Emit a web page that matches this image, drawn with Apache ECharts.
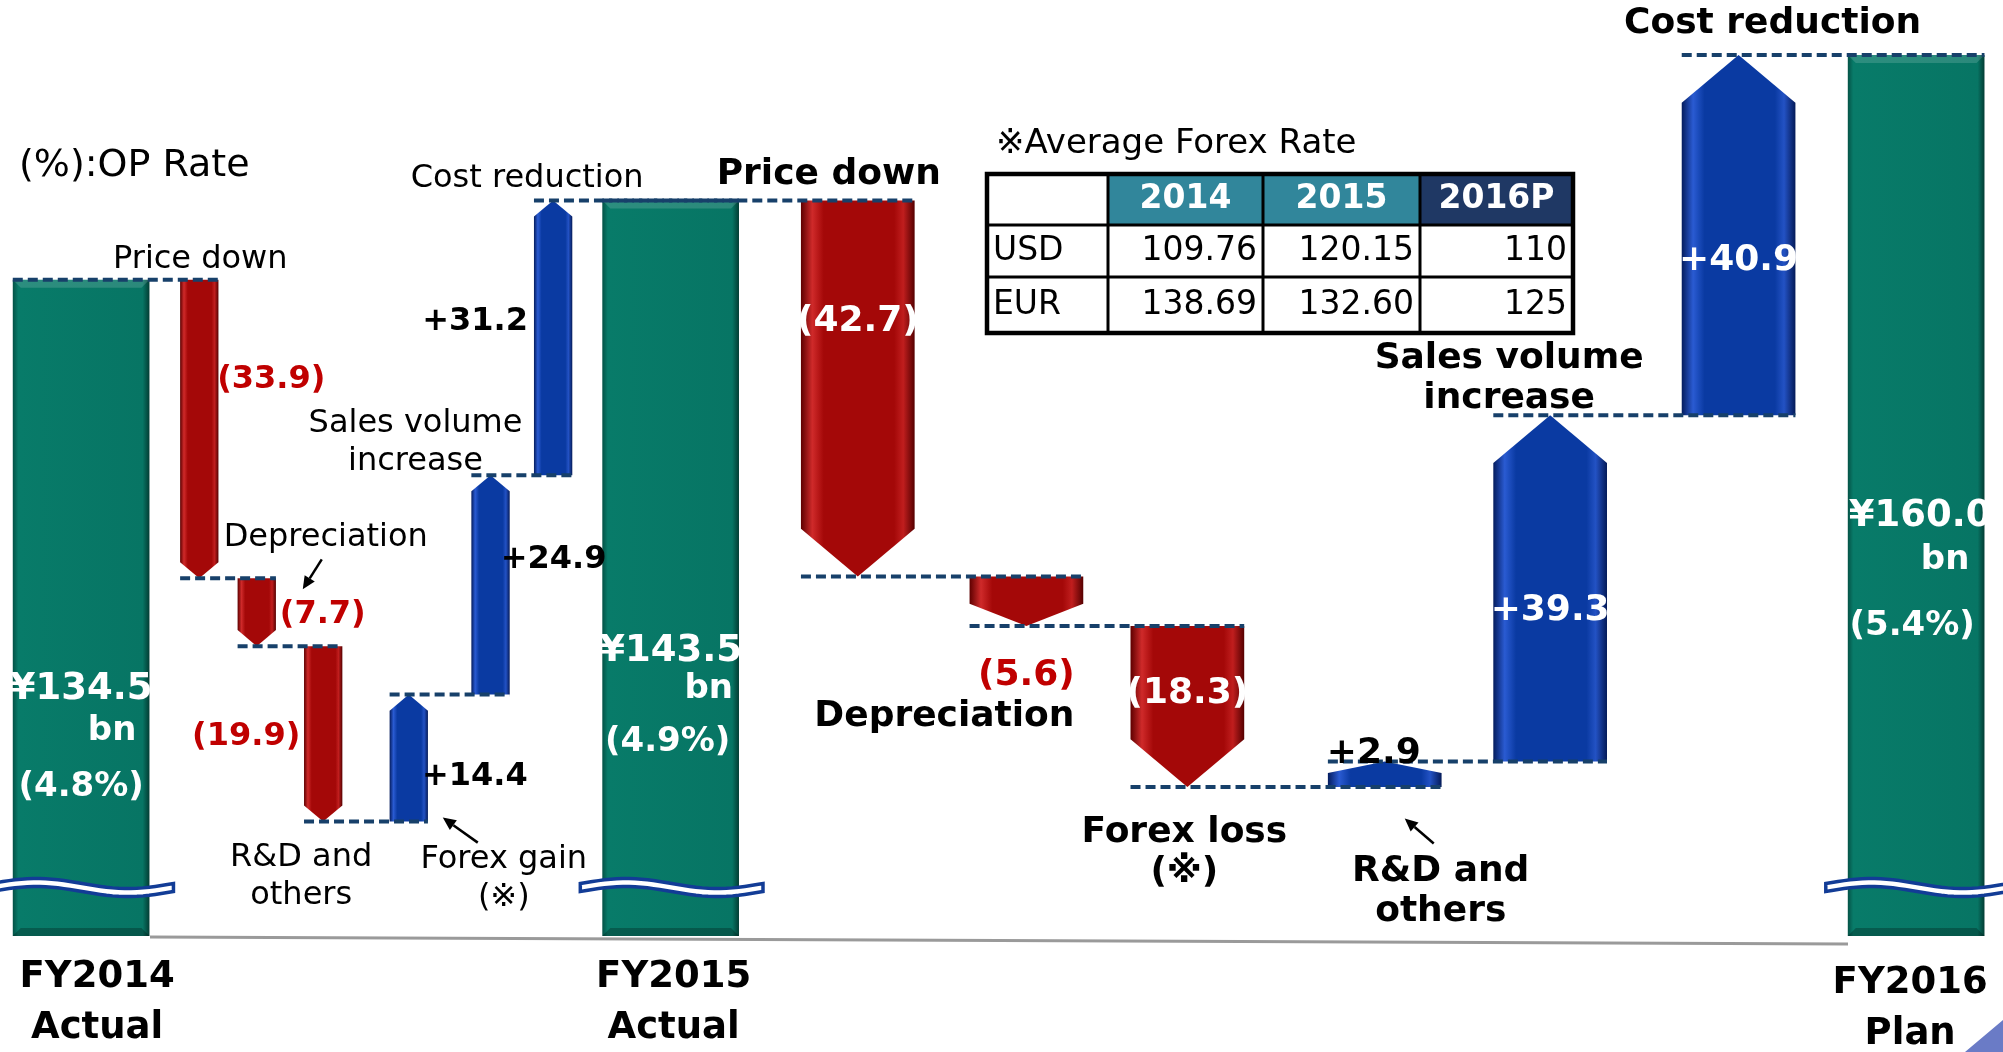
<!DOCTYPE html>
<html>
<head>
<meta charset="utf-8">
<script src="https://cdn.jsdelivr.net/npm/echarts@6/dist/echarts.min.js"></script>
<style>
  html, body { margin: 0; padding: 0; background: #fff; }
  #main { width: 2003px; height: 1052px; }
</style>
</head>
<body>
<div id="main"></div>
<script>
// ---- data (bn yen) ----
const stepNames = ['FY2014\nActual', 'Price down', 'Depreciation', 'R&D and\nothers', 'Forex gain\n(※)',
  'Sales volume\nincrease', 'Cost reduction', 'FY2015\nActual', 'Price down', 'Depreciation',
  'Forex loss\n(※)', 'R&D and\nothers', 'Sales volume\nincrease', 'Cost reduction', 'FY2016\nPlan'];
const stepValues = [134.5, -33.9, -7.7, -19.9, 14.4, 24.9, 31.2, 143.5, -42.7, -5.6, -18.3, 2.9, 39.3, 40.9, 160.0];
const isTotal = [1, 0, 0, 0, 0, 0, 0, 1, 0, 0, 0, 0, 0, 0, 1];
const opRates = ['4.8%', '4.9%', '5.4%'];

const forexYears = ['2014', '2015', '2016P'];
const forexCurrencies = ['USD', 'EUR'];
const forexUSD = ['109.76', '120.15', '110'];
const forexEUR = ['138.69', '132.60', '125'];

// ---- layout ----
const AXIS_MIN = 60, AXIS_MAX = 165;     // axis is broken, bars start at 60
const BREAK_AT = 65.5;
// slot centres / widths on the hidden x axis (0..1568)
const slotX = [63.5, 156, 201, 253, 320, 384, 433, 525, 671.5, 803.5, 929.5, 1084, 1213.5, 1361, 1500];
const slotW = [107, 30, 30, 30, 30, 30, 30, 107, 89, 89, 89, 89, 89, 89, 107];
// label offsets (px) from the top-centre of each bar; totals' names from the bottom
const nameOffset = [[16, 67], [1, -20], [69, -41], [-22, 231], [95, 184], [-75, -33], [-26, -22],
  [3, 67], [-29, -26], [-82, 140], [-3, 227], [56, 130], [-41, -37], [34, -31], [-6, 73]];
const valueOffset = [[0, 410], [72, 100], [66, 36], [-77, 91], [66, 82], [63, 84], [-78, 121],
  [0, 451], [0, 121], [0, 99], [0, 68], [-11, -8], [0, 195], [0, 206], [4, 461]];
const valueColor = ['#fff', '#C00000', '#C00000', '#C00000', '#000', '#000', '#000',
  '#fff', '#fff', '#C00000', '#fff', '#000', '#fff', '#fff', '#fff'];
const totalSub = [[31, 41, 0, 97], [38, 38, -3, 91], [25, 44, -8, 110]]; // bn dx,dy / pct dx,dy
const arrows = {2: [65, -19, 46, 11], 4: [69, 148, 34, 123], 11: [49, 82, 20, 57]};

const FONT = '"DejaVu Sans", Verdana, sans-serif';

// cumulative waterfall rows: [x, low, high, dir, width, endLevel]
let run = 0;
const rows = stepValues.map((v, i) => {
  if (isTotal[i]) { run = v; return [slotX[i], AXIS_MIN, v, 0, slotW[i], v]; }
  const from = run;
  run = Math.round((run + v) * 10) / 10;
  return [slotX[i], Math.min(from, run), Math.max(from, run), v < 0 ? -1 : 1, slotW[i], run];
});

function grad(stops) {
  return new echarts.graphic.LinearGradient(0, 0, 1, 0, stops.map(c => ({offset: c[0], color: c[1]})));
}
const tealFill = grad([[0, '#045246'], [0.04, '#087b69'], [0.95, '#077564'], [1, '#033c33']]);
const redFill = grad([[0, '#5e0000'], [0.1, '#cf2a2a'], [0.2, '#a40808'], [0.82, '#a40808'], [0.9, '#c01e1e'], [1, '#560000']]);
const blueFill = grad([[0, '#041c5e'], [0.1, '#2a5bd2'], [0.2, '#0a3aa2'], [0.82, '#0a3aa2'], [0.9, '#2352c4'], [1, '#041a58']]);

function geom(api, r) {
  const a = api.coord([r[0] - r[4] / 2, r[2]]);
  const b = api.coord([r[0] + r[4] / 2, r[1]]);
  return {L: a[0], R: b[0], T: a[1], B: b[1], C: (a[0] + b[0]) / 2, W: b[0] - a[0], H: b[1] - a[1]};
}

function renderBar(params, api) {
  const i = params.dataIndex, r = rows[i], g = geom(api, r);
  const kids = [];
  if (r[3] === 0) {
    kids.push({type: 'rect', shape: {x: g.L, y: g.T, width: g.W, height: g.H}, style: {fill: tealFill}});
    kids.push({type: 'polygon', shape: {points: [[g.L, g.T], [g.R, g.T], [g.R - 8, g.T + 8], [g.L + 8, g.T + 8]]},
      style: {fill: 'rgba(255,255,255,0.15)'}});
    kids.push({type: 'polygon', shape: {points: [[g.L, g.B], [g.R, g.B], [g.R - 8, g.B - 8], [g.L + 8, g.B - 8]]},
      style: {fill: 'rgba(0,0,0,0.25)'}});
    // axis break mark
    const yc = api.coord([r[0], BREAK_AT])[1];
    const x0 = g.L - 22, x1 = g.R + 24, n = 30, top = [], bot = [];
    for (let k = 0; k <= n; k++) {
      const t = k / n, x = x0 + (x1 - x0) * t, y = yc - 5 * Math.sin(2 * Math.PI * t);
      top.push([x, y - 4]);
      bot.unshift([x, y + 4]);
    }
    kids.push({type: 'polygon', shape: {points: top.concat(bot)},
      style: {fill: '#fff', stroke: '#123C96', lineWidth: 3.5}});
  } else {
    const tip = Math.min(g.W * 0.42, g.H * 0.45);
    const pts = r[3] < 0
      ? [[g.L, g.T], [g.R, g.T], [g.R, g.B - tip], [g.C, g.B], [g.L, g.B - tip]]
      : [[g.C, g.T], [g.R, g.T + tip], [g.R, g.B], [g.L, g.B], [g.L, g.T + tip]];
    kids.push({type: 'polygon', shape: {points: pts}, style: {fill: r[3] < 0 ? redFill : blueFill}});
  }
  return {type: 'group', children: kids};
}

function txt(x, y, text, font, fill, lh) {
  return {type: 'text', x: x, y: y, style: {text: text, font: font, fill: fill, align: 'center',
    verticalAlign: 'middle', lineHeight: lh || undefined}};
}

function arrowTo(x1, y1, x2, y2) {
  const a = Math.atan2(y2 - y1, x2 - x1), s = 13, w = 6;
  const bx = x2 - s * Math.cos(a), by = y2 - s * Math.sin(a);
  return [
    {type: 'line', shape: {x1: x1, y1: y1, x2: bx, y2: by}, style: {stroke: '#000', lineWidth: 2.5}},
    {type: 'polygon', shape: {points: [[x2, y2], [bx + w * Math.sin(a), by - w * Math.cos(a)], [bx - w * Math.sin(a), by + w * Math.cos(a)]]},
      style: {fill: '#000'}}
  ];
}

function renderOverlay(params, api) {
  const i = params.dataIndex, r = rows[i], g = geom(api, r);
  let kids = [];
  // dashed connector to the next bar
  if (i < rows.length - 1) {
    const nx = rows[i + 1];
    const p1 = api.coord([r[0] - r[4] / 2, r[5]]), p2 = api.coord([nx[0] + nx[4] / 2, r[5]]);
    kids.push({type: 'line', shape: {x1: p1[0], y1: p1[1], x2: p2[0], y2: p2[1]},
      style: {stroke: '#17406A', lineWidth: 4, lineDash: [10, 5]}});
  }
  const seg2 = i > 7;
  const no = nameOffset[i], vo = valueOffset[i];
  if (isTotal[i]) {
    const t = [0, 7, 14].indexOf(i), s = totalSub[t];
    kids.push(txt(g.C + no[0], g.B + no[1], stepNames[i], 'bold 37px ' + FONT, '#000', 51));
    kids.push(txt(g.C + vo[0], g.T + vo[1], '¥' + stepValues[i].toFixed(1), 'bold 37px ' + FONT, '#fff'));
    kids.push(txt(g.C + vo[0] + s[0], g.T + vo[1] + s[1], 'bn', 'bold 34px ' + FONT, '#fff'));
    kids.push(txt(g.C + vo[0] + s[2], g.T + vo[1] + s[3], '(' + opRates[t] + ')', 'bold 34px ' + FONT, '#fff'));
  } else {
    const v = stepValues[i];
    const label = v < 0 ? '(' + Math.abs(v).toFixed(1) + ')' : '+' + v.toFixed(1);
    kids.push(txt(g.C + no[0], g.T + no[1], stepNames[i], seg2 ? 'bold 36px ' + FONT : '32px ' + FONT, '#000', seg2 ? 40 : 38));
    kids.push(txt(g.C + vo[0], g.T + vo[1], label, (seg2 ? 'bold 36px ' : 'bold 32px ') + FONT, valueColor[i]));
  }
  if (arrows[i]) {
    const a = arrows[i];
    kids = kids.concat(arrowTo(g.C + a[0], g.T + a[1], g.C + a[2], g.T + a[3]));
  }
  return {type: 'group', children: kids};
}

// ---- forex table (graphic) ----
const colX = [987, 1108, 1263, 1420, 1573];
const rowY = [174, 225, 277, 333];
const tableEls = [];
forexYears.forEach((y, k) => {
  tableEls.push({type: 'rect', shape: {x: colX[k + 1], y: rowY[0], width: colX[k + 2] - colX[k + 1], height: rowY[1] - rowY[0]},
    style: {fill: k < 2 ? '#31869B' : '#1F3864'}});
  tableEls.push({type: 'text', x: (colX[k + 1] + colX[k + 2]) / 2, y: (rowY[0] + rowY[1]) / 2,
    style: {text: y, font: 'bold 33px ' + FONT, fill: '#fff', align: 'center', verticalAlign: 'middle'}});
});
[forexUSD, forexEUR].forEach((vals, r) => {
  const cy = (rowY[r + 1] + rowY[r + 2]) / 2;
  tableEls.push({type: 'text', x: colX[0] + 6, y: cy,
    style: {text: forexCurrencies[r], font: '33px ' + FONT, fill: '#000', align: 'left', verticalAlign: 'middle'}});
  vals.forEach((v, k) => {
    tableEls.push({type: 'text', x: colX[k + 2] - 6, y: cy,
      style: {text: v, font: '33px ' + FONT, fill: '#000', align: 'right', verticalAlign: 'middle'}});
  });
});
colX.slice(1, -1).forEach(x => tableEls.push({type: 'line', shape: {x1: x, y1: rowY[0], x2: x, y2: rowY[3]}, style: {stroke: '#000', lineWidth: 3}}));
rowY.slice(1, -1).forEach(y => tableEls.push({type: 'line', shape: {x1: colX[0], y1: y, x2: colX[4], y2: y}, style: {stroke: '#000', lineWidth: 3}}));
tableEls.push({type: 'rect', shape: {x: colX[0], y: rowY[0], width: colX[4] - colX[0], height: rowY[3] - rowY[0]},
  style: {fill: 'none', stroke: '#000', lineWidth: 4.5}});

const chart = echarts.init(document.getElementById('main'));
chart.setOption({
  animation: false,
  grid: {left: 0, right: 0, top: 11, bottom: 116},
  xAxis: {type: 'value', min: 0, max: 1568, show: false},
  yAxis: {type: 'value', min: AXIS_MIN, max: AXIS_MAX, show: false},
  graphic: [
    {type: 'line', shape: {x1: 150, y1: 937, x2: 1848, y2: 944}, style: {stroke: '#9a9a9a', lineWidth: 3}, z: 0},
    {type: 'text', x: 19, y: 166, style: {text: '(%):OP Rate', font: '38px ' + FONT, fill: '#000', align: 'left', verticalAlign: 'middle'}},
    {type: 'text', x: 996, y: 144, style: {text: '※Average Forex Rate', font: '34px ' + FONT, fill: '#000', align: 'left', verticalAlign: 'middle'}},
    {type: 'group', children: tableEls},
    {type: 'polygon', shape: {points: [[1965, 1052], [2003, 1020], [2003, 1052]]}, style: {fill: '#6A7BC6'}}
  ],
  series: [
    {type: 'custom', renderItem: renderBar, data: rows, encode: {x: 0, y: [1, 2]}, z: 2},
    {type: 'custom', renderItem: renderOverlay, data: rows, encode: {x: 0, y: [1, 2]}, z: 5}
  ]
});
</script>
</body>
</html>
